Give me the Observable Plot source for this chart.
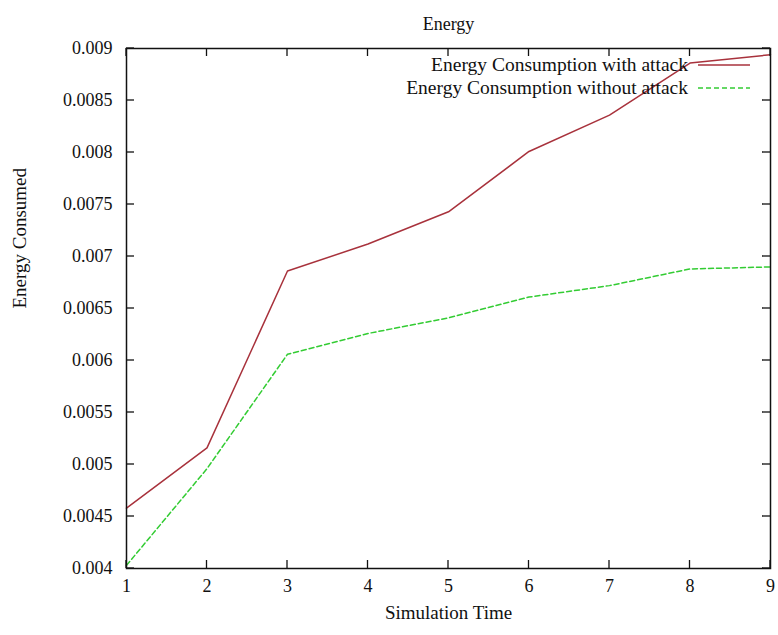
<!DOCTYPE html>
<html>
<head>
<meta charset="utf-8">
<script src="https://cdn.jsdelivr.net/npm/d3@7"></script>
<script src="https://cdn.jsdelivr.net/npm/@observablehq/plot@0.6"></script>
<style>
  html, body { margin: 0; padding: 0; background: #fff; }
  #chart svg { display: block; }
</style>
</head>
<body>
<div id="chart"></div>
<script>
// ---- data ----
const simulationTime = [1, 2, 3, 4, 5, 6, 7, 8, 9];
const withAttack    = [0.00458, 0.00516, 0.00686, 0.00712, 0.00743, 0.00801, 0.00836, 0.00886, 0.00894];
const withoutAttack = [0.00403, 0.00496, 0.00606, 0.00626, 0.00641, 0.00661, 0.00672, 0.00688, 0.00690];
const seriesNames = ["Energy Consumption with attack", "Energy Consumption without attack"];
const seriesColors = ["#a8323c", "#33cc33"];
const xTicks = [1, 2, 3, 4, 5, 6, 7, 8, 9];
const yTicks = [0.004, 0.0045, 0.005, 0.0055, 0.006, 0.0065, 0.007, 0.0075, 0.008, 0.0085, 0.009];
const yTickLabels = ["0.004", "0.0045", "0.005", "0.0055", "0.006", "0.0065", "0.007", "0.0075", "0.008", "0.0085", "0.009"];
const titleText = "Energy";
const xLabel = "Simulation Time";
const yLabel = "Energy Consumed";

const rows = [];
simulationTime.forEach((t, i) => rows.push({series: seriesNames[0], t, v: withAttack[i]}));
simulationTime.forEach((t, i) => rows.push({series: seriesNames[1], t, v: withoutAttack[i]}));

const FONT = "'Liberation Serif', 'DejaVu Serif', serif";
const W = 778, H = 635, ML = 126, MR = 8, MT = 48, MB = 67;
const TICK = 8;

const chart = Plot.plot({
  width: W,
  height: H,
  marginLeft: ML,
  marginRight: MR,
  marginTop: MT,
  marginBottom: MB,
  style: {fontFamily: FONT, fontSize: "18px", background: "#fff", color: "#111"},
  x: {domain: [1, 9]},
  y: {domain: [0.004, 0.009]},
  color: {domain: seriesNames, range: seriesColors},
  marks: [
    Plot.axisY(yTicks, {anchor: "left", tickSize: 0, tickPadding: 14, tickFormat: (d, i) => yTickLabels[i], label: null}),
    Plot.axisX(xTicks, {anchor: "bottom", tickSize: 0, tickPadding: 11, tickFormat: d => String(d), label: null}),
    Plot.lineY(rows.filter(d => d.series === seriesNames[0]), {x: "t", y: "v", stroke: "series", strokeWidth: 1.5}),
    Plot.lineY(rows.filter(d => d.series === seriesNames[1]), {x: "t", y: "v", stroke: "series", strokeWidth: 1.5, strokeDasharray: "5,3"}),
    Plot.frame({stroke: "#111", strokeWidth: 1.5}),
    Plot.text([titleText], {frameAnchor: "top", dy: -31, fontSize: 18, fill: "#111", letterSpacing: "0.5px"}),
    Plot.text([xLabel], {frameAnchor: "bottom", dy: 50, fontSize: 19, fill: "#111"}),
    Plot.text([yLabel], {frameAnchor: "left", dx: -107, rotate: -90, fontSize: 19, fill: "#111"})
  ]
});

document.getElementById("chart").appendChild(chart);

const svg = d3.select(chart);
const xs = chart.scale("x"), ys = chart.scale("y");
const frameLeft = ML, frameRight = W - MR, frameTop = MT, frameBottom = H - MB;

// ---- inward ticks on all four sides (mirrored, gnuplot style) ----
const tg = svg.append("g").attr("stroke", "#111").attr("stroke-width", 1.3);
yTicks.forEach(v => {
  const py = ys.apply(v);
  tg.append("line").attr("x1", frameLeft).attr("x2", frameLeft + TICK).attr("y1", py).attr("y2", py);
  tg.append("line").attr("x1", frameRight).attr("x2", frameRight - TICK).attr("y1", py).attr("y2", py);
});
xTicks.forEach(v => {
  const px = xs.apply(v);
  tg.append("line").attr("x1", px).attr("x2", px).attr("y1", frameBottom).attr("y2", frameBottom - TICK);
  tg.append("line").attr("x1", px).attr("x2", px).attr("y1", frameTop).attr("y2", frameTop + TICK);
});

// ---- legend (inside top-right of the frame) ----
const lg = svg.append("g").attr("font-family", FONT).attr("font-size", 19.5);
const textRight = 688, lineX1 = 698, lineX2 = 750, rowY = [65, 88];
seriesNames.forEach((name, i) => {
  lg.append("text")
    .attr("x", textRight).attr("y", rowY[i]).attr("dy", "0.32em")
    .attr("text-anchor", "end").attr("fill", "#111").text(name);
  lg.append("line")
    .attr("x1", lineX1).attr("x2", lineX2).attr("y1", rowY[i]).attr("y2", rowY[i])
    .attr("stroke", seriesColors[i]).attr("stroke-width", 1.5)
    .attr("stroke-dasharray", i === 1 ? "5,3" : null);
});
</script>
</body>
</html>
